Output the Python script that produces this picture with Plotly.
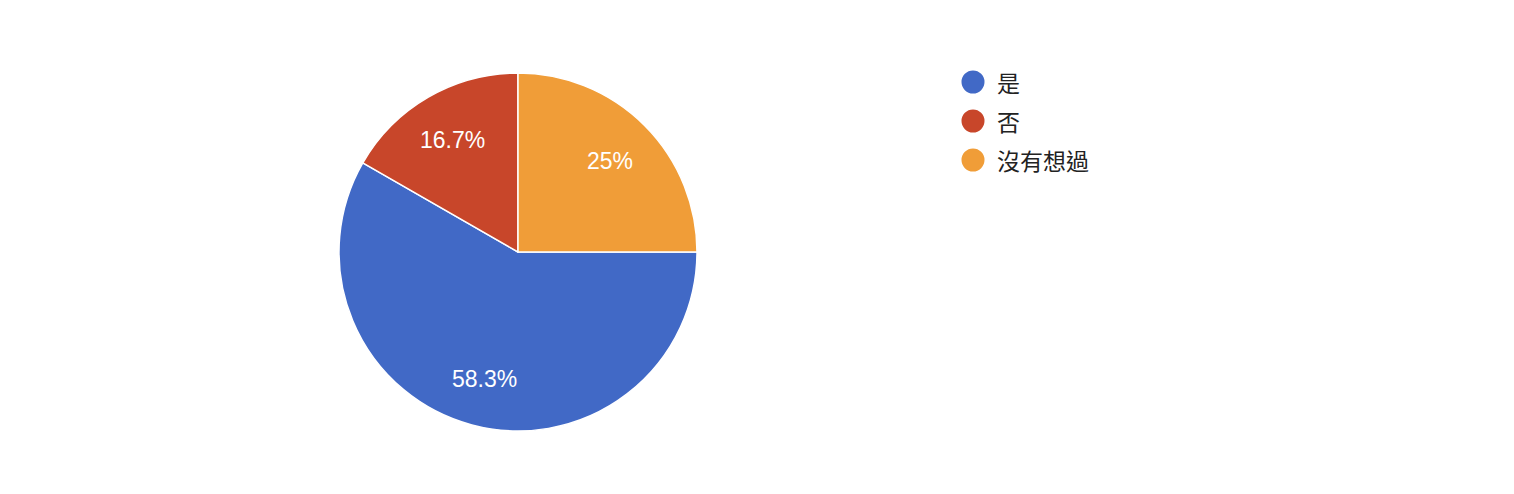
import math
import plotly.graph_objects as go

# Survey answers
labels = ['是', '否', '沒有想過']
percents = [58.3, 16.7, 25.0]
text_labels = ['58.3%', '16.7%', '25%']

COLORS = {
    '是': '#4169c6',
    '否': '#c8462a',
    '沒有想過': '#f09d38',
}

W, H = 1514, 494
OFF = 8  # page body margin
CX, CY, R = 518 - OFF, 252 - OFF, 179  # pie centre / radius in pixels
START = 90  # first slice starts at 3 o'clock, clockwise

fig = go.Figure()

fig.add_trace(go.Pie(
    labels=labels,
    values=percents,
    textinfo='none',
    marker=dict(colors=[COLORS[l] for l in labels], line=dict(color='white', width=1.5)),
    sort=False,
    direction='clockwise',
    rotation=START,
    showlegend=False,
    hoverinfo='label+percent',
    domain=dict(x=[(CX - R) / W, (CX + R) / W], y=[(H - CY - R) / H, (H - CY + R) / H]),
))

annotations = []

# slice labels placed at ~3/4 of the radius, like the original chart
total = sum(percents)
acc = 0.0
for pct, txt in zip(percents, text_labels):
    mid = math.radians(START + (acc + pct / 2) / total * 360)
    acc += pct
    lx = CX + 0.73 * R * math.sin(mid)
    ly = CY - 0.73 * R * math.cos(mid) + 1
    annotations.append(dict(
        text=txt, xref='paper', yref='paper',
        x=lx / W, y=(H - ly) / H, xanchor='center', yanchor='middle',
        showarrow=False,
        font=dict(family='Liberation Sans, Arial, sans-serif', size=23, color='white'),
    ))

# Hand-drawn legend (plotly caps legend marker size)
shapes = []
leg_x, leg_y0, leg_step, dot = 973 - OFF, 82 - OFF, 39, 23
for i, lab in enumerate(labels):
    cy = leg_y0 + i * leg_step
    shapes.append(dict(
        type='circle', xref='paper', yref='paper',
        x0=(leg_x - dot / 2) / W, x1=(leg_x + dot / 2) / W,
        y0=(H - cy - dot / 2) / H, y1=(H - cy + dot / 2) / H,
        fillcolor=COLORS[lab], line=dict(width=0),
    ))
    annotations.append(dict(
        text=lab, xref='paper', yref='paper',
        x=(995 - OFF) / W, y=(H - cy) / H, xanchor='left', yanchor='middle',
        showarrow=False,
        font=dict(family='Noto Sans CJK TC, sans-serif', size=23, color='#222222'),
    ))

fig.update_layout(
    width=W,
    height=H,
    margin=dict(l=0, r=0, t=0, b=0),
    paper_bgcolor='white',
    plot_bgcolor='white',
    shapes=shapes,
    annotations=annotations,
)

fig.write_html("out.html")
